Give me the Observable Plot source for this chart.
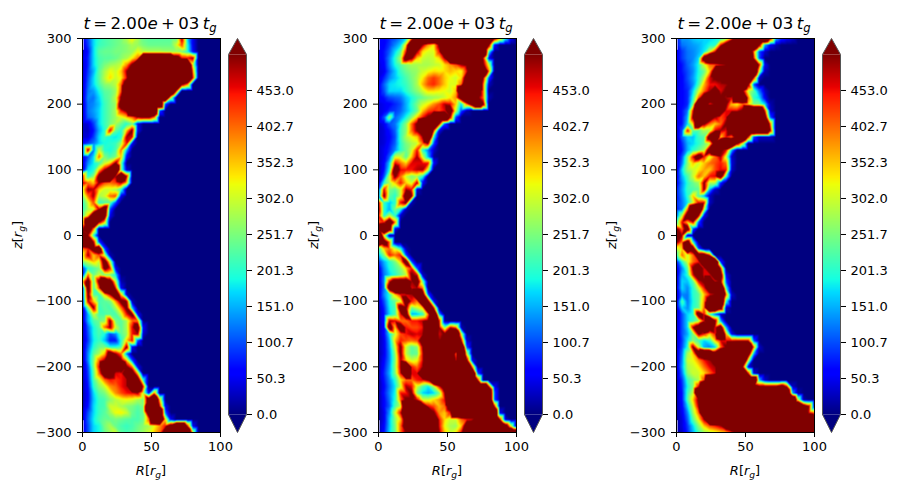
<!DOCTYPE html>
<html lang="en">
<head>
<meta charset="UTF-8">
<script src="https://cdn.jsdelivr.net/npm/d3@7"></script>
<script src="https://cdn.jsdelivr.net/npm/@observablehq/plot@0.6"></script>
<title>t = 2.00e+03 t_g</title>
<style>
    html, body {margin: 0; padding: 0; background: white;}
    #fig {position: relative; width: 900px; height: 480px; overflow: hidden; font-family: "DejaVu Sans", sans-serif; color: black;}
    #fig svg {position: absolute; overflow: visible; background: transparent;}
    .lbl {position: absolute; white-space: nowrap; transform: translate(-50%, -50%);}
    .lbl sub {font-size: 70%; vertical-align: baseline; position: relative; top: 0.3em;}
    .title {font-size: 16.6px;}
    .axlbl {font-size: 13px;}
    .rot {transform: translate(-50%, -50%) rotate(-90deg);}
</style>
</head>
<body>
<div id="fig"></div>
<script>
// grid of the three maps: one row per z, one entry per R, zeros to the right are left out
const zRows = d3.range(300, -301, -10);
const rCols = d3.range(0, 101, 4);

const panelA = [
[50,100,170,200,220,230,240,250,280,330,280,240,230,230,230,230,230,240,490,170,50],
[40,90,170,210,220,230,240,250,260,280,270,250,240,240,240,240,240,300,420,200,50],
[30,70,170,230,240,240,250,250,260,270,320,290,280,280,280,270,270,270,250,200,60],
[40,80,170,220,230,230,240,260,280,330,400,900,900,900,900,900,900,620,460,450,490],
[30,80,170,220,250,270,280,300,380,520,900,900,900,900,900,900,900,900,900,900,300],
[30,90,150,230,280,320,300,350,490,900,900,900,900,900,900,900,900,900,900,900,400],
[30,100,170,230,290,340,300,330,460,900,900,900,900,900,900,900,900,900,900,900,460],
[30,110,170,220,260,270,290,400,620,900,900,900,900,900,900,900,900,900,520,400],
[30,120,140,190,230,240,270,420,900,900,900,900,900,900,900,900,900,460],
[30,130,120,170,220,240,290,520,900,900,900,900,900,900,900,900,300],
[30,120,130,160,210,240,270,620,900,900,900,900,900,900,900,100],
[30,120,140,170,210,240,280,450,520,900,900,900,900,900,100],
[30,110,130,170,210,240,270,310,350,400,490,520,520,400],
[30,40,90,170,210,250,280,240,200,250,50],
[30,30,70,150,200,470,240,200,350,520,50],
[30,40,90,170,210,190,180,200,490,460],
[60,90,120,170,190,200,210,280,460,50],
[60,500,120,300,200,190,220,400,150],
[50,100,170,400,250,220,250,350,60],
[40,130,180,220,300,350,520,250],
[30,170,190,350,490,620,900,250,30],
[450,200,260,550,900,900,480,800,480],
[480,400,350,500,420,400,420,480,350],
[300,500,480,350,300,300,280,200],
[250,400,490,280,300,400,420,50],
[200,300,420,200,220,230,100],
[200,280,300,490,700,100],
[220,350,700,900,620,50],
[300,800,900,490,350],
[480,700,400],
[800,490,200],
[900,800,490,100],
[400,450,600,700,100],
[300,490,350,420,300,20],
[250,300,350,300,600,300],
[80,200,220,250,540,450,50],
[60,400,240,300,250,250,180],
[340,600,230,540,800,600,300,20],
[50,600,220,420,900,900,450,50],
[50,540,230,210,350,480,700,350,30],
[40,480,350,220,230,250,380,540,490,20],
[30,250,510,210,230,220,280,400,540,150],
[20,150,300,220,220,230,220,300,450,540,60],
[20,150,220,240,260,510,250,230,280,400,400],
[20,110,190,230,400,510,300,230,280,460,620,50],
[20,100,190,220,190,100,130,230,270,450,490,30],
[20,90,180,210,160,70,70,200,350,460,100],
[20,110,200,240,250,200,200,230,520,50],
[20,130,230,280,350,620,490,400,120],
[20,130,250,400,490,700,900,520,350,100],
[20,100,250,460,900,900,620,900,520,400,50],
[20,90,230,400,620,620,460,450,620,620,350],
[20,80,220,300,400,450,430,450,480,900,620,200],
[20,70,200,260,300,380,400,450,480,900,900,460],
[20,60,170,230,250,310,380,420,450,460,490,300,60,400],
[20,60,160,210,220,260,290,310,320,310,280,250,620,900,350],
[20,70,170,210,220,300,300,280,260,250,230,250,900,900,460,50],
[30,100,170,210,230,270,320,330,300,240,220,240,620,900,900,120],
[30,110,180,220,240,240,250,240,230,220,220,240,400,900,900,350,50],
[40,100,170,190,250,280,240,220,210,220,240,260,280,320,380,450,620,900,900,460,50],
[40,100,170,190,240,270,300,230,220,230,250,270,300,350,400,620,900,900,900,900,300]
];

const panelB = [
[60,60,80,100,130,170,400,900,900,900,900,900,900,900,900,900,900,900,900,900,900,520,350,180,50],
[50,60,90,130,170,350,900,900,490,380,330,520,900,900,900,900,900,900,900,900,520,60],
[50,70,110,170,230,460,900,490,340,310,310,450,900,900,900,900,900,900,900,900,200],
[50,70,130,200,280,620,520,350,300,290,300,340,490,900,900,900,900,900,900,460,60],
[40,60,130,190,230,260,280,280,280,280,290,300,340,380,420,490,520,900,900,520,300],
[40,50,110,160,210,240,260,270,300,320,340,330,340,360,340,320,460,900,900,900,400],
[40,80,130,160,190,220,250,280,330,400,430,400,350,320,300,340,620,900,900,490,100],
[50,110,170,180,190,210,240,280,360,420,440,400,350,310,310,400,900,900,900,400,30],
[50,100,170,170,170,200,230,260,300,340,340,330,320,300,350,900,900,900,620,400],
[50,70,100,110,120,160,190,220,240,260,270,280,300,330,380,620,900,900,520,400,20],
[40,50,60,80,100,150,200,250,300,330,380,420,480,460,350,170,400,620,900,520],
[40,50,80,90,110,150,190,240,350,420,440,420,460,620,300,100,20],
[40,100,260,110,140,190,260,350,450,520,900,900,900,490,100],
[30,50,100,120,190,260,400,520,900,900,900,490,100],
[30,40,70,110,210,260,400,510,620,900,460,50],
[30,40,60,100,210,280,320,350,490,900,200],
[30,40,70,110,200,250,280,300,400,490,100],
[30,50,80,130,200,240,300,450,200,120,30],
[30,50,110,300,300,230,350,490,300,150,10],
[30,60,170,460,400,350,460,460,460,450,60],
[20,70,200,620,460,450,450,480,490,300],
[20,100,300,520,400,300,250,280,200],
[30,200,280,350,450,350,300,490,60],
[80,460,250,230,300,490,450,30],
[100,520,230,200,300,620,520],
[490,200,160,200,460,520,20],
[520,200,150,250,200,20],
[460,200,300,200,30],
[400,450,700,400],
[620,900,620,50],
[900,300],
[900,620,400],
[200,350,400,300,200,20],
[150,250,450,400,450,100],
[80,150,200,250,350,620,100],
[40,130,190,220,260,350,450,100],
[30,120,170,200,240,290,520,460,30],
[30,130,460,620,620,620,490,620,250],
[30,120,620,900,700,900,460,490,400],
[30,130,200,350,450,460,490,900,620,100],
[30,100,190,240,300,620,450,400,900,520,50],
[20,80,180,220,620,520,250,300,350,900,460],
[20,70,170,220,460,620,150,160,200,400,900,150],
[20,70,490,460,400,400,450,450,480,520,900,460,10],
[20,60,620,350,620,450,420,420,450,900,900,490,250,460,400,20],
[20,60,180,300,420,450,480,460,480,900,900,460,520,900,900,300],
[20,50,150,350,450,420,400,420,620,900,900,490,900,900,900,490,30],
[20,50,140,300,520,300,230,260,490,900,900,900,900,900,900,900,100],
[15,50,130,260,520,290,230,240,460,900,900,900,900,900,400,900,300],
[15,60,130,250,490,350,300,320,460,900,900,900,900,900,460,900,520,50],
[15,70,140,260,490,900,450,400,490,900,900,900,900,900,900,900,900,400],
[15,80,150,250,460,900,460,460,900,900,900,900,900,900,900,900,900,900,100],
[15,70,130,200,330,400,400,450,460,520,900,900,900,900,900,900,900,900,460],
[15,60,120,180,300,490,460,300,220,180,280,450,620,900,900,900,900,900,900,900,460,50],
[15,70,130,190,450,450,520,250,170,150,170,250,490,900,900,900,900,900,900,900,900,100],
[15,60,120,200,400,520,520,460,300,300,340,380,460,900,900,900,900,900,900,900,900,100],
[15,60,110,220,300,900,900,900,620,460,420,360,400,620,900,900,900,900,900,900,900,460],
[15,50,140,300,460,900,900,900,900,900,520,380,350,450,900,900,900,900,900,900,900,900,50],
[15,50,160,260,350,620,900,900,900,900,900,450,340,300,300,400,450,460,520,900,900,900,460,30],
[20,60,160,250,400,620,900,900,900,900,900,460,320,280,270,350,620,900,900,900,900,900,900,620,300],
[20,70,170,240,400,520,900,900,900,900,900,490,350,300,330,460,900,900,900,900,900,900,900,900,900,900]
];

const panelC = [
[60,140,140,160,170,170,170,180,200,250,400,900,900,900,900,900,900,490,150,80,50,30],
[60,120,130,140,150,170,190,200,450,620,900,900,900,900,900,520,150,50,20],
[50,90,120,130,150,180,300,460,900,900,900,900,900,900,400,100,30],
[50,90,120,130,170,620,900,900,900,900,900,900,900,900,460,100],
[40,70,110,140,190,300,400,420,450,490,900,900,900,900,900,460,50],
[40,70,100,130,190,240,350,620,900,900,900,900,900,900,900,300,20],
[40,60,100,140,200,290,460,520,520,620,900,900,900,900,460,30],
[40,60,90,130,220,360,450,450,480,490,520,900,900,520,100],
[40,60,80,170,300,400,490,620,460,520,900,620,520,300,230,120,30],
[40,60,80,200,400,620,620,620,520,490,460,900,900,400,200,170,50],
[40,60,80,250,900,620,450,520,620,520,350,320,400,350,250,250,170,20],
[40,70,120,460,900,900,900,900,620,460,460,460,520,900,900,900,460,30],
[40,70,150,520,900,900,620,490,420,460,900,900,900,900,900,900,620,100],
[40,70,170,350,900,520,400,350,400,520,900,900,900,900,900,900,900,400],
[30,100,460,230,230,280,280,460,490,460,620,900,900,900,900,900,900,490],
[30,110,170,160,210,230,620,900,350,460,400,620,900,460,100,30,30,30],
[30,80,150,170,200,240,300,620,900,900,900,520,300],
[30,70,150,200,240,280,620,900,520,460,150],
[30,100,250,460,620,460,300,400,490,300,30],
[30,120,260,350,300,350,400,420,450,400,40],
[30,170,270,300,330,370,350,420,460,450,30],
[40,150,220,300,400,350,450,460,620,200],
[50,130,200,240,270,510,280,280,80],
[70,140,210,220,230,510,150,30],
[70,130,200,350,220,150,30],
[80,120,180,300,450,460,30],
[70,120,400,900,900,300],
[100,300,620,900,490,50],
[200,460,350,460,100],
[520,400,620,100],
[620,490,20],
[520,400,620,200],
[300,350,900,620,100],
[200,400,300,400,620,620,460],
[70,200,300,400,450,900,900,900,80],
[40,130,230,520,620,460,620,900,460],
[30,150,200,460,620,460,460,620,620,50],
[30,170,160,230,460,520,900,460,520,100],
[40,170,130,200,300,450,620,900,900,200],
[30,130,120,200,230,350,450,490,900,400,30],
[30,220,120,190,230,380,620,900,900,200],
[30,170,130,200,230,400,900,900,620,30],
[30,100,170,200,620,460,200,100,30],
[30,100,170,210,270,460,900,520,150],
[30,100,170,490,620,900,620,460,620,150],
[30,100,150,250,520,450,350,450,900,350,50],
[30,90,180,260,220,170,200,350,460,450,450,460,460,460,100],
[30,100,200,520,300,150,130,170,400,520,900,900,900,900,400,30],
[30,120,280,350,620,900,900,620,900,900,900,900,900,620,150],
[30,130,300,320,380,450,490,900,900,900,900,900,900,300],
[30,140,280,300,330,400,460,490,900,900,900,900,490,50],
[20,120,260,300,300,340,400,460,900,900,900,900,900,460,40],
[20,90,210,250,280,430,900,900,900,900,900,900,900,900,900,150,30],
[20,80,190,260,460,900,900,900,900,900,900,900,900,900,620,520,520,520,520,620,460,30],
[20,70,210,300,900,900,900,900,900,900,900,900,900,900,900,900,900,900,900,900,900,150,20],
[20,70,220,350,520,900,900,900,900,900,900,900,900,900,900,900,900,900,900,900,900,900,300,20],
[20,60,170,300,490,900,900,900,900,900,900,900,900,900,900,900,900,900,900,900,900,900,900,620,490,30],
[20,50,130,270,400,900,900,900,900,900,900,900,900,900,900,900,900,900,900,900,900,900,900,900,460,400],
[20,40,110,230,330,490,900,900,900,900,900,900,900,900,900,900,900,900,900,900,900,900,900,900,900,620],
[20,40,90,170,260,350,420,450,490,620,900,900,900,900,900,900,900,900,900,900,900,900,900,900,900,900],
[20,30,80,150,220,270,290,310,340,370,430,520,900,900,900,900,900,900,900,900,900,900,900,900,900,900]
];

const panelLefts = [82, 378, 676];
const panelData = [panelA, panelB, panelC];
const cbTicks = [0, 50.33, 100.67, 151, 201.33, 251.67, 302, 352.33, 402.67, 453];
const cbLabels = ["0.0", "50.3", "100.7", "151.0", "201.3", "251.7", "302.0", "352.3", "402.7", "453.0"];
const xTicks = [0, 50, 100];
const yTicks = [-300, -200, -100, 0, 100, 200, 300];
const vmax = 503.33;

// matplotlib jet, as stops on the value range
const jetStops = [0, .11, .125, .34, .375, .64, .66, .89, .91, 1].map(d => d * vmax);
const jetColors = ["#000080", "#0000ff", "#0000ff", "#00dbff", "#14ffe2", "#eeff08", "#ffec00", "#ff1300", "#e80000", "#800000"];
const colorOpts = {type: "linear", domain: jetStops, range: jetColors, clamp: true};

const fig = document.getElementById("fig");
const fontStyle = "font-family:'DejaVu Sans',sans-serif;font-size:13px;color:black;background:transparent;";

function place(svg, left, top) {
    svg.style.left = left + "px";
    svg.style.top = top + "px";
    fig.append(svg);
}

function addLabel(html, x, y, cls) {
    const d = document.createElement("div");
    d.className = "lbl " + cls;
    d.innerHTML = html;
    d.style.left = x + "px";
    d.style.top = y + "px";
    fig.append(d);
}

function drawMap(rows, left) {
    const points = rows.flatMap((row, j) => rCols.map((R, i) => ({R, z: zRows[j], v: row[i] ?? 0})));
    const plot = Plot.plot({
        width: 138 + 60, height: 394 + 40,
        marginLeft: 50, marginRight: 10, marginTop: 10, marginBottom: 30,
        style: fontStyle,
        x: {domain: [0, 100]},
        y: {domain: [-300, 300]},
        color: colorOpts,
        marks: [
            Plot.raster(points, {x: "R", y: "z", fill: "v", x1: 0, x2: 100, y1: -300, y2: 300, interpolate: "barycentric", pixelSize: 1}),
            Plot.ruleX([0.4], {y1: 282, y2: 300, stroke: "white"}),
            Plot.ruleX([0.4], {y1: -300, y2: -282, stroke: "white"}),
            Plot.frame({stroke: "black", strokeWidth: 1}),
            Plot.axisX({ticks: xTicks, tickSize: 5, tickPadding: 4, label: null, stroke: "black", fill: "black", tickFormat: d => d}),
            Plot.axisY({ticks: yTicks, tickSize: 5, tickPadding: 6, label: null, stroke: "black", fill: "black"})
        ]
    });
    place(plot, left - 50, 38 - 10);
}

function drawColorbar(left) {
    const topTip = vmax + 22.4, bottomTip = -25.2;
    const outline = [[0, 0], [0.5, bottomTip], [1, 0], [1, vmax], [0.5, topTip], [0, vmax], [0, 0]];
    const plot = Plot.plot({
        width: 18 + 60, height: 360 + 16 + 18,
        marginLeft: 0, marginRight: 60, marginTop: 16, marginBottom: 18,
        style: fontStyle,
        x: {domain: [0, 1], axis: null},
        y: {domain: [0, vmax], axis: null},
        color: colorOpts,
        marks: [
            Plot.line([[0, vmax], [0.5, topTip], [1, vmax]], {fill: "#800000", stroke: "none", clip: false}),
            Plot.line([[0, 0], [0.5, bottomTip], [1, 0]], {fill: "#000080", stroke: "none", clip: false}),
            Plot.raster({fill: (x, y) => y, x1: 0, x2: 1, y1: 0, y2: vmax, pixelSize: 1}),
            Plot.line(outline, {stroke: "#555", strokeWidth: 1}),
            Plot.axisY({anchor: "right", ticks: cbTicks, tickSize: 5, tickPadding: 5, label: null, stroke: "black", fill: "black",
                tickFormat: d => cbLabels[cbTicks.indexOf(d)]})
        ]
    });
    place(plot, left + 146, 38);
}

panelLefts.forEach((left, i) => {
    drawMap(panelData[i], left);
    drawColorbar(left);
    addLabel('<i>t</i>\u2009=\u20092.00<i>e</i>\u2009+\u200903\u2009<i>t<sub>g</sub></i>', left + 68, 23, "title");
    addLabel('<i>R</i>[<i>r<sub>g</sub></i>]', left + 69, 470, "axlbl");
    addLabel('<i>z</i>[<i>r<sub>g</sub></i>]', left - 65, 235, "axlbl rot");
});
</script>
</body>
</html>
